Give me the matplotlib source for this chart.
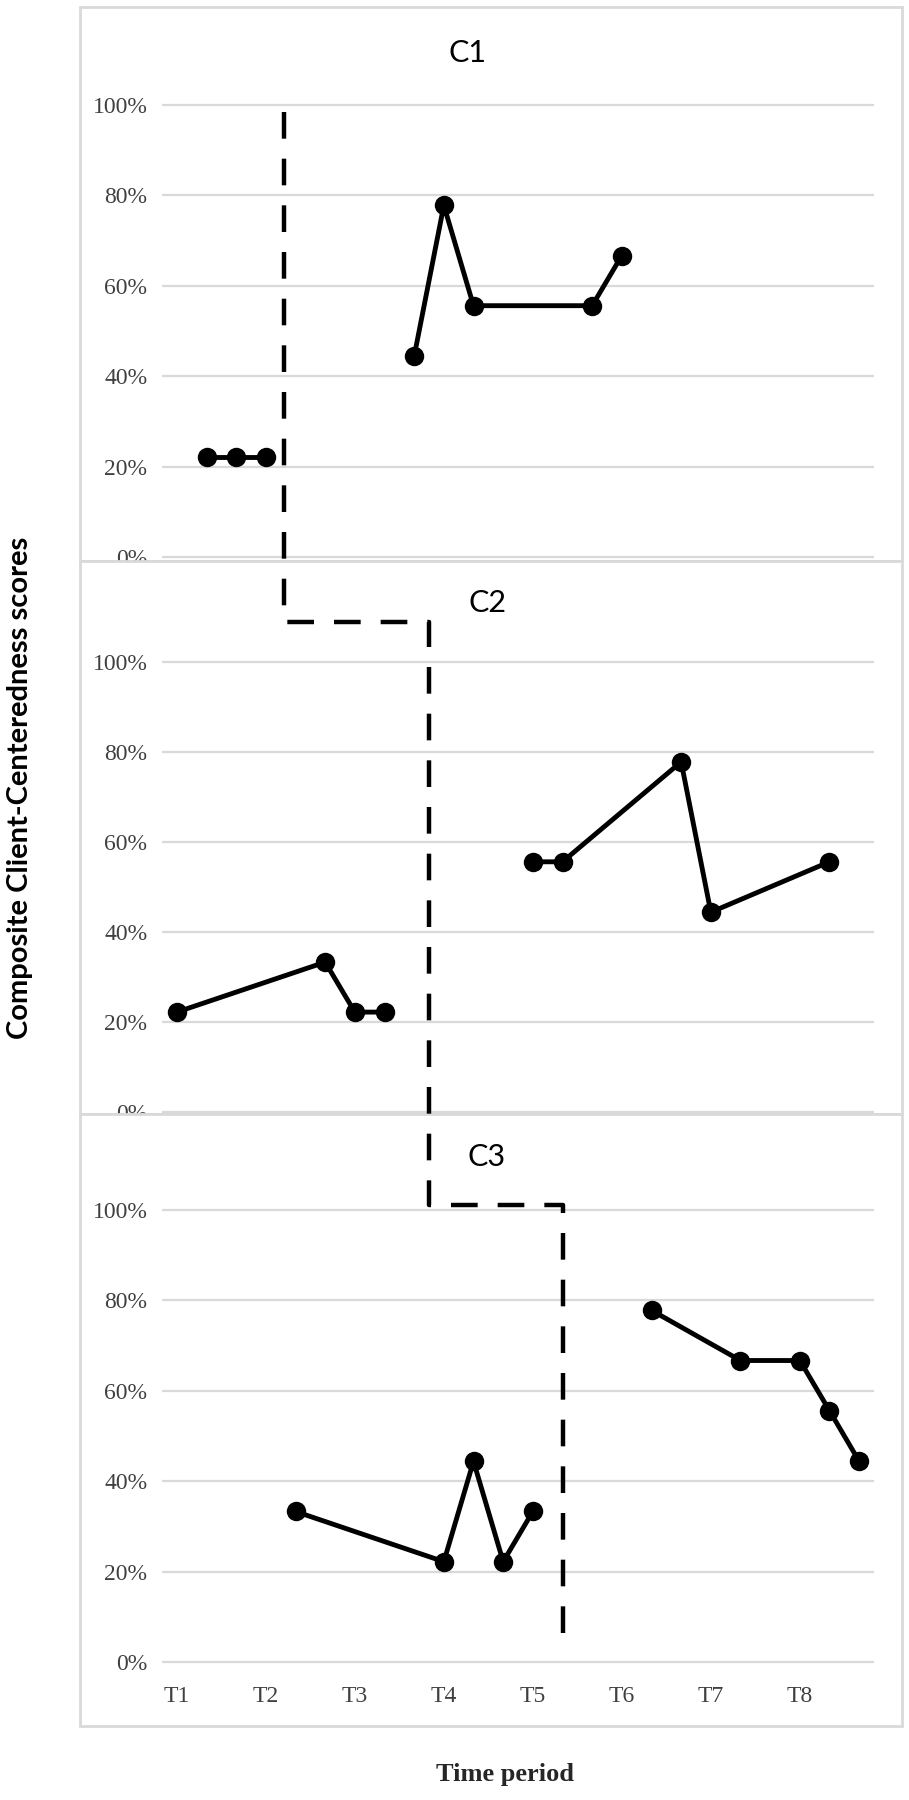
import matplotlib
matplotlib.use("Agg")
import matplotlib.pyplot as plt
from matplotlib.lines import Line2D
from matplotlib.patches import Rectangle

# Data: sessions are numbered 1..24 on the category axis
case_names = ["C1", "C2", "C3"]
baseline_x = [[2, 3, 4], [1, 6, 7, 8], [5, 10, 11, 12, 13]]
baseline_y = [
    [22.2, 22.2, 22.2],
    [22.2, 33.3, 22.2, 22.2],
    [33.3, 22.2, 44.4, 22.2, 33.3],
]
treat_x = [[9, 10, 11, 15, 16], [13, 14, 18, 19, 23], [17, 20, 22, 23, 24]]
treat_y = [
    [44.4, 77.8, 55.6, 55.6, 66.7],
    [55.6, 55.6, 77.8, 44.4, 55.6],
    [77.8, 66.7, 66.7, 55.6, 44.4],
]
period_pos = [1, 4, 7, 10, 13, 16, 19, 22]
period_labels = ["T1", "T2", "T3", "T4", "T5", "T6", "T7", "T8"]
y_ticks = [0, 20, 40, 60, 80, 100]

# phase change line: x position and the level of each step
phase_x = [4.6, 9.5, 14.0]
phase_top = 98.5      # start in C1
phase_steps = [108.9, 101.1]  # horizontal runs in C2 and C3
phase_end = 3.0       # end in C3

W, H = 909, 1800
fig = plt.figure(figsize=(W / 100, H / 100), dpi=100)


def fig_box(x0, y0, x1, y1):
    """pixel box (top-down) -> figure fraction rect"""
    return [x0 / W, 1 - y1 / H, (x1 - x0) / W, (y1 - y0) / H]


panel_boxes = [(80, 7, 902, 561), (80, 561, 902, 1114), (80, 1114, 902, 1726)]
grid_rows = [(105, 557), (662, 1112), (1210, 1662)]
title_pos = [(467, 53), (488, 603), (487, 1157)]
pad = 2.0

axes = []
for i in range(3):
    x0, y0, x1, y1 = panel_boxes[i]
    fig.add_artist(Rectangle((x0 / W, 1 - y1 / H), (x1 - x0) / W, (y1 - y0) / H,
                             transform=fig.transFigure, facecolor="white",
                             edgecolor="#d9d9d9", linewidth=2.0, zorder=1 + 2 * i))
    top, bot = grid_rows[i]
    ppu = (bot - top) / 100.0
    ax = fig.add_axes(fig_box(162, top - pad * ppu, 874, bot + pad * ppu))
    ax.set_zorder(2 + 2 * i)
    ax.patch.set_visible(False)
    ax.set_xlim(0.5, 24.5)
    ax.set_ylim(-pad, 100 + pad)
    ax.set_yticks(y_ticks)
    ax.set_yticklabels([f"{t}%" for t in y_ticks])
    ax.set_xticks(period_pos)
    ax.set_xticklabels(period_labels)
    for s in ax.spines.values():
        s.set_visible(False)
    ax.grid(axis="y", color="#d9d9d9", linewidth=1.6)
    ax.set_axisbelow(True)
    ax.tick_params(length=0, labelsize=17, labelcolor="#404040", pad=10.5,
                   labelbottom=(i == 2))
    for lab in ax.get_xticklabels() + ax.get_yticklabels():
        lab.set_family("Liberation Serif")

    ax.plot(baseline_x[i], baseline_y[i], color="black", lw=3.5, marker="o",
            ms=14, mew=0, solid_joinstyle="round")
    ax.plot(treat_x[i], treat_y[i], color="black", lw=3.5, marker="o",
            ms=14, mew=0, solid_joinstyle="round")

    tx, ty = title_pos[i]
    fig.text(tx / W, 1 - ty / H, case_names[i], family="Lato", fontsize=22,
             ha="center", va="center", zorder=20)
    axes.append(ax)

# dashed phase-change line running across the three panels
pts = [
    (axes[0], phase_x[0], phase_top),
    (axes[1], phase_x[0], phase_steps[0]),
    (axes[1], phase_x[1], phase_steps[0]),
    (axes[2], phase_x[1], phase_steps[1]),
    (axes[2], phase_x[2], phase_steps[1]),
    (axes[2], phase_x[2], phase_end),
]
to_fig = fig.transFigure.inverted()
fxy = [to_fig.transform(a.transData.transform((x, y))) for a, x, y in pts]
fig.add_artist(Line2D([p[0] for p in fxy], [p[1] for p in fxy],
                      transform=fig.transFigure, color="black", lw=3.2,
                      linestyle=(0, (6, 4.5)), dash_capstyle="butt",
                      solid_joinstyle="miter", zorder=30))

fig.text(20 / W, 1 - 788 / H, "Composite Client-Centeredness scores",
         family="Lato", weight="bold", fontsize=21, rotation=90,
         ha="center", va="center")
fig.text(505 / W, 1 - 1775 / H, "Time period", family="Liberation Serif",
         weight="bold", fontsize=19, color="#262626", ha="center", va="center")

fig.savefig("out.png", dpi=100)
